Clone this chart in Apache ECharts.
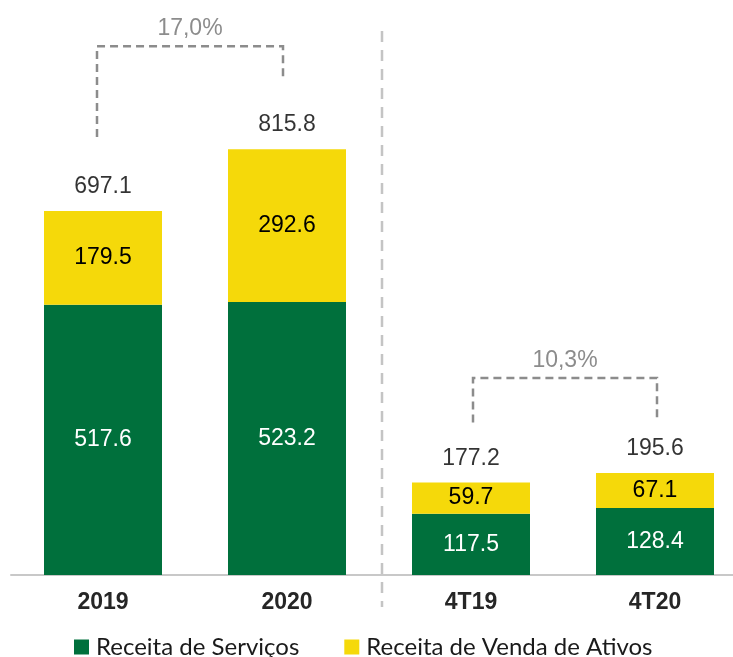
<!DOCTYPE html>
<html>
<head>
<meta charset="utf-8">
<script src="https://cdn.jsdelivr.net/npm/echarts@6/dist/echarts.min.js"></script>
<style>
  html, body { margin: 0; padding: 0; background: #fff; overflow: hidden; }
  #chart { width: 747px; height: 657px; }
</style>
</head>
<body>
<div id="chart"></div>
<script>
const categories = ['2019', '2020', '4T19', '4T20'];
const servicos = [517.6, 523.2, 117.5, 128.4];
const vendaAtivos = [179.5, 292.6, 59.7, 67.1];
const totais = [697.1, 815.8, 177.2, 195.6];
const variacoes = [
    { from: 0, to: 1, text: '17,0%' },
    { from: 2, to: 3, text: '10,3%' }
];

const GREEN = '#00703c';
const YELLOW = '#f5d90a';
const NUM_FONT = 'Liberation Sans, Arial, sans-serif';

const chart = echarts.init(document.getElementById('chart'), null, { renderer: 'canvas' });

const option = {
    animation: false,
    grid: { left: 11, top: 53, right: 0, bottom: 82 },
    legend: {
        data: ['Receita de Serviços', 'Receita de Venda de Ativos'],
        left: 74,
        top: 635,
        padding: 0,
        itemWidth: 15,
        itemHeight: 15,
        itemGap: 45,
        icon: 'rect',
        textStyle: { fontFamily: 'Lato, sans-serif', fontSize: 24, color: '#1a1a1a', padding: [0, 0, 0, 2] }
    },
    xAxis: {
        type: 'category',
        data: categories,
        axisLine: { lineStyle: { color: '#c8c8c8', width: 2 } },
        axisTick: { show: false },
        axisLabel: {
            margin: 16,
            fontFamily: NUM_FONT,
            fontSize: 23,
            fontWeight: 'bold',
            color: '#262626'
        }
    },
    yAxis: { type: 'value', min: 0, max: 1000, show: false },
    series: [
        {
            name: 'Receita de Serviços',
            type: 'bar',
            stack: 'receita',
            barWidth: 118,
            data: servicos,
            itemStyle: { color: GREEN },
            label: {
                show: true, position: 'inside', color: '#fff',
                fontFamily: NUM_FONT, fontSize: 23,
                formatter: p => p.value.toFixed(1)
            }
        },
        {
            name: 'Receita de Venda de Ativos',
            type: 'bar',
            stack: 'receita',
            barWidth: 118,
            data: vendaAtivos,
            itemStyle: { color: YELLOW },
            label: {
                show: true, position: 'inside', color: '#000',
                fontFamily: NUM_FONT, fontSize: 23,
                formatter: p => p.value.toFixed(1)
            }
        },
        {
            name: 'Total',
            type: 'scatter',
            data: totais,
            symbolSize: 1,
            itemStyle: { color: 'rgba(0,0,0,0)' },
            label: {
                show: true, position: 'top', distance: 12, color: '#000',
                fontFamily: NUM_FONT, fontSize: 23,
                formatter: p => p.value.toFixed(1)
            }
        }
    ]
};

chart.setOption(option);

// anotações: separador e colchetes de variação
function drawAnnotations() {
    const px = (i, v) => chart.convertToPixel({ seriesIndex: 0 }, [i, v]);
    const axisY = px(0, 0)[1];
    const graphics = [];
    const sepX = (px(1, 0)[0] + px(2, 0)[0]) / 2 + 3;
    graphics.push({
        type: 'line',
        shape: { x1: sepX, y1: 31, x2: sepX, y2: axisY + 32 },
        style: { stroke: '#c4c4c4', lineWidth: 2.5, lineDash: [11, 8] },
        silent: true
    });
    // deslocamentos dos colchetes: [x esq, x dir], altura acima da maior barra, [queda esq, queda dir]
    const ajustes = [
        { dx: [-6, -4], alto: 103, queda: [74, 70] },
        { dx: [2, 2], alto: 95, queda: [60, 53] }
    ];
    variacoes.forEach((v, k) => {
        const aj = ajustes[k];
        const a = px(v.from, totais[v.from]);
        const b = px(v.to, totais[v.to]);
        const xa = a[0] + aj.dx[0];
        const xb = b[0] + aj.dx[1];
        const topY = Math.min(a[1], b[1]) - aj.alto;
        graphics.push({
            type: 'polyline',
            shape: { points: [[xa, a[1] - aj.queda[0]], [xa, topY], [xb, topY], [xb, b[1] - aj.queda[1]]] },
            style: { stroke: '#8c8c8c', lineWidth: 2.5, lineDash: [8, 5], fill: null },
            silent: true
        });
        graphics.push({
            type: 'text',
            x: (xa + xb) / 2,
            y: topY - 17,
            style: {
                text: v.text, fill: '#8c8c8c', fontFamily: NUM_FONT, fontSize: 23,
                align: 'center', verticalAlign: 'middle'
            },
            silent: true
        });
    });
    chart.setOption({ graphic: graphics });
}
drawAnnotations();
</script>
</body>
</html>
